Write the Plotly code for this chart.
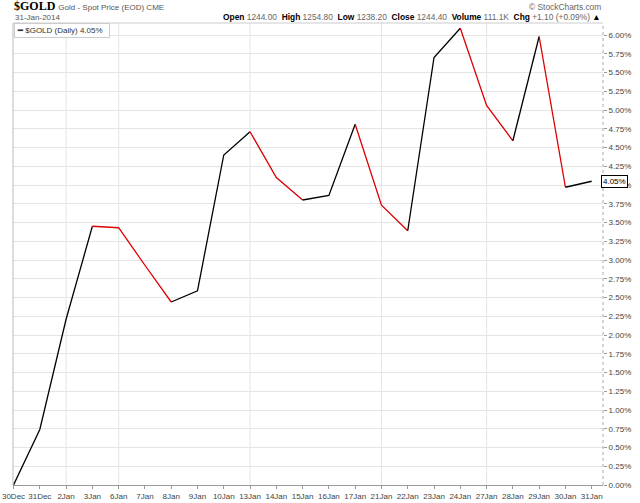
import plotly.graph_objects as go

# $GOLD daily close, % change since 30 Dec 2013
dates = ["30Dec", "31Dec", "2Jan", "3Jan", "6Jan", "7Jan", "8Jan", "9Jan", "10Jan",
         "13Jan", "14Jan", "15Jan", "16Jan", "17Jan", "21Jan", "22Jan", "23Jan",
         "24Jan", "27Jan", "28Jan", "29Jan", "30Jan", "31Jan"]
pct = [0.00, 0.74, 2.21, 3.45, 3.43, 2.93, 2.44, 2.59, 4.40,
       4.71, 4.10, 3.80, 3.86, 4.81, 3.73, 3.39, 5.70,
       6.09, 5.06, 4.59, 5.98, 3.97, 4.05]
grid_dates = ["2Jan", "6Jan", "13Jan", "21Jan", "27Jan"]
y_ticks = [i * 0.25 for i in range(25)]
y_ticktext = [f"{v:.2f}%" for v in y_ticks]
last_label = "4.05%"

FONT = "Liberation Sans"
GRID = "#e4e4e4"
PLOT_H = 503 - 23 - 18

fig = go.Figure()

# split the line into up (black) / down (red) runs
runs = []
for i in range(len(pct) - 1):
    col = "#dd0000" if pct[i + 1] < pct[i] else "black"
    if runs and runs[-1][0] == col:
        runs[-1][1].append(i + 1)
    else:
        runs.append([col, [i, i + 1]])

for col, idx in runs:
    fig.add_trace(go.Scatter(
        x=[dates[k] for k in idx], y=[pct[k] for k in idx],
        mode="lines", line=dict(color=col, width=1.3),
        showlegend=False, hoverinfo="x+y"))

fig.update_xaxes(
    type="category", categoryorder="array", categoryarray=dates,
    range=[-0.02, 22.43], showgrid=False, zeroline=False, automargin=False,
    showline=True, linecolor="#999", linewidth=1, mirror=False,
    ticks="outside", ticklen=3, tickcolor="#999",
    tickfont=dict(family=FONT, size=8, color="#444"),
)
fig.update_yaxes(
    side="right", range=[0, 6.16], tickvals=y_ticks, ticktext=y_ticktext,
    showgrid=True, gridcolor=GRID, gridwidth=1, zeroline=False, automargin=False,
    ticks="outside", ticklen=3, tickcolor="#999",
    tickfont=dict(family=FONT, size=8, color="#444"),
)

# weekly vertical gridlines
for d in grid_dates:
    fig.add_shape(type="line", xref="x", yref="paper", x0=d, x1=d, y0=0, y1=1,
                  line=dict(color=GRID, width=1), layer="below")

# frame: left/top solid, right dotted
fig.add_shape(type="line", xref="paper", yref="paper", x0=0, x1=0, y0=0, y1=1,
              line=dict(color="#bbb", width=1))
fig.add_shape(type="line", xref="paper", yref="paper", x0=0, x1=1, y0=1, y1=1,
              line=dict(color="#ccc", width=1))
fig.add_shape(type="line", xref="paper", yref="paper", x0=1, x1=1, y0=0, y1=1,
              line=dict(color="#aaa", width=1, dash="dot"))

# header
fig.add_annotation(
    xref="paper", yref="paper", x=-0.002, y=1 + 16.5 / PLOT_H, xanchor="left", yanchor="middle",
    text="<b>$GOLD</b> <span style='font-family:Liberation Sans;font-size:8px;color:#555'>Gold - Spot Price (EOD) CME</span>",
    showarrow=False, font=dict(family="Liberation Serif", size=12, color="black"))
fig.add_annotation(
    xref="paper", yref="paper", x=0, y=1 + 5.5 / PLOT_H, xanchor="left", yanchor="middle",
    text="31-Jan-2014", showarrow=False, font=dict(family=FONT, size=8, color="#555"))
fig.add_annotation(
    xref="paper", yref="paper", x=1.0, y=1 + 6 / PLOT_H, xanchor="right", yanchor="middle",
    text=("<b>Open</b> <span style='color:#666'>1244.00</span>  <b>High</b> <span style='color:#666'>1254.80</span>  "
          "<b>Low</b> <span style='color:#666'>1238.20</span>  <b>Close</b> <span style='color:#666'>1244.40</span>  "
          "<b>Volume</b> <span style='color:#666'>111.1K</span>  <b>Chg</b> <span style='color:#666'>+1.10 (+0.09%)</span> ▲"),
    showarrow=False, font=dict(family=FONT, size=8.4, color="black"))
fig.add_annotation(
    xref="paper", yref="paper", x=1.0, y=1 + 16 / PLOT_H, xanchor="right", yanchor="middle",
    text="© StockCharts.com", showarrow=False, font=dict(family=FONT, size=8.4, color="#666"))

# legend box
fig.add_annotation(
    xref="paper", yref="paper", x=0.001, y=0.999, xanchor="left", yanchor="top",
    text="<b>━</b> $GOLD (Daily) 4.05%  ", showarrow=False,
    font=dict(family=FONT, size=8, color="#333"),
    bgcolor="white", bordercolor="#ccc", borderwidth=1, borderpad=2)

# last value tag on right axis
fig.add_annotation(
    xref="paper", yref="y", x=1.0, y=pct[-1], xanchor="left", yanchor="middle", xshift=-2,
    text=last_label, showarrow=False,
    font=dict(family=FONT, size=8, color="black"),
    bgcolor="white", bordercolor="black", borderwidth=1, borderpad=1)

fig.update_layout(
    width=640, height=503,
    margin=dict(l=13, r=37, t=23, b=18),
    plot_bgcolor="white", paper_bgcolor="white",
    showlegend=False,
)

fig.write_html("out.html", config={"displayModeBar": False},
               post_script="document.body.style.margin='0';")
